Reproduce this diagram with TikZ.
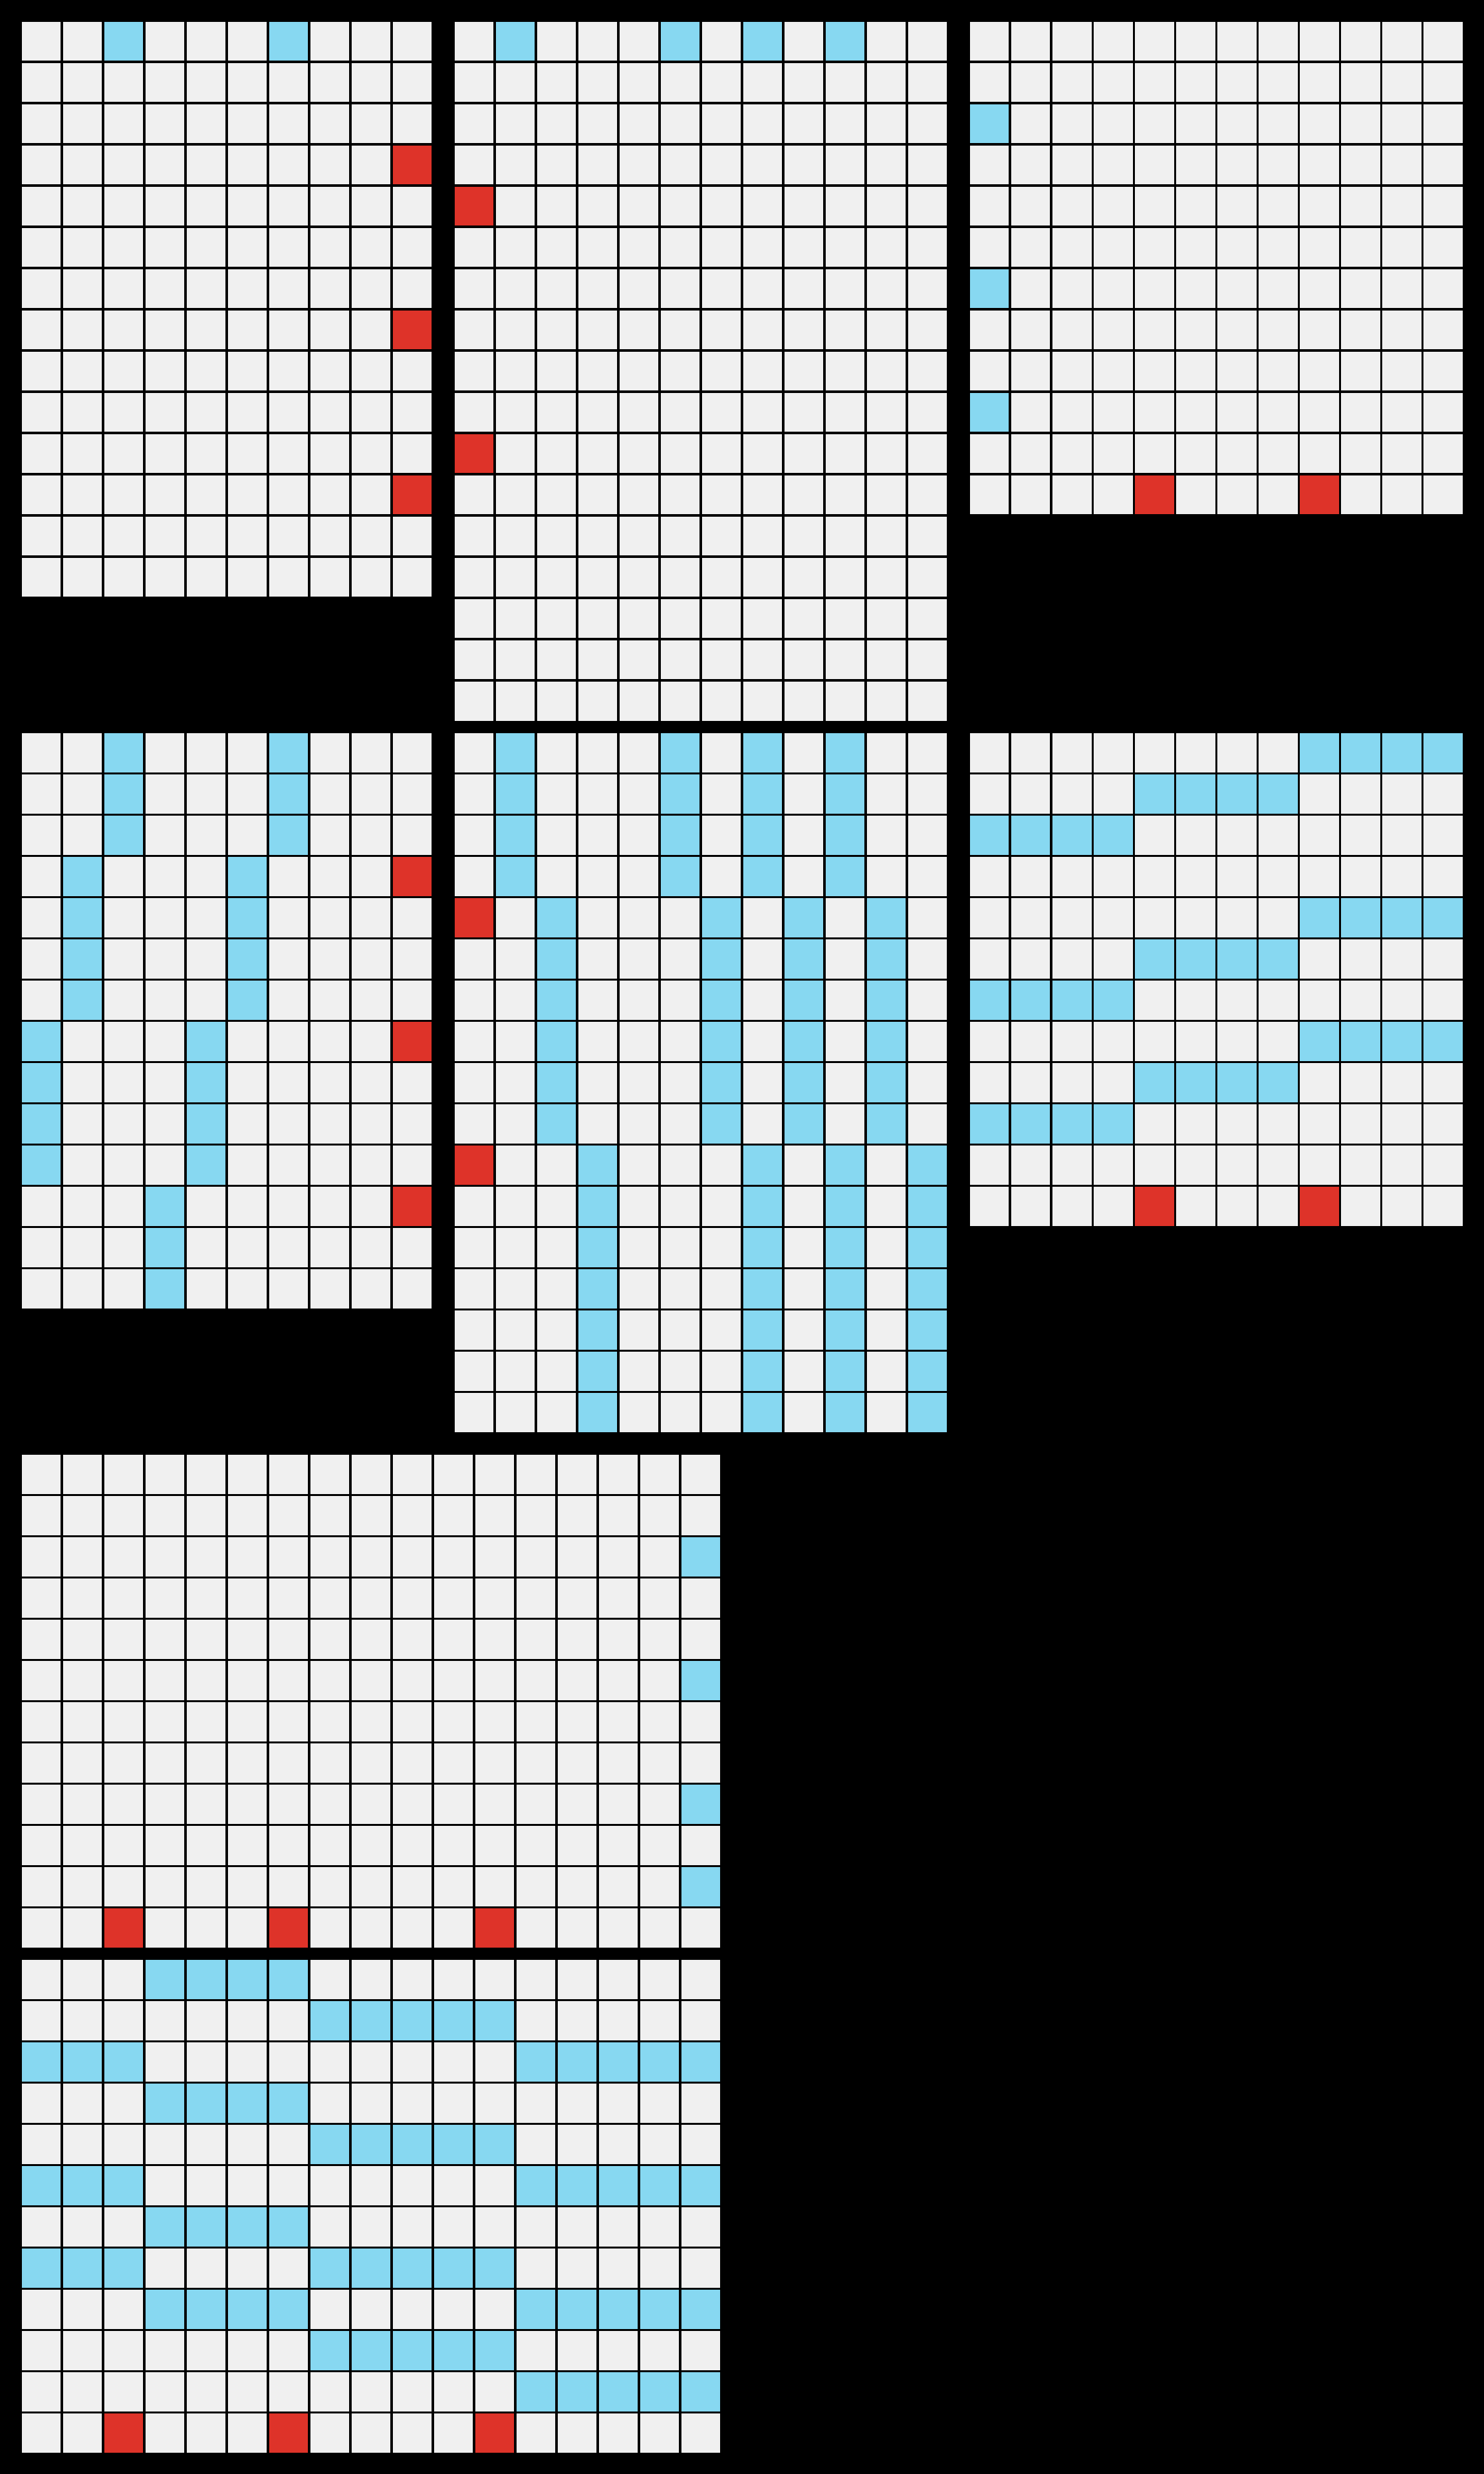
\documentclass[tikz,border=0pt]{standalone}
\usepackage{tikz}
\definecolor{cellgrey}{HTML}{F0F0F0}
\definecolor{beamblue}{HTML}{87D8F1}
\definecolor{mirrorred}{HTML}{DE3329}
\tikzset{
  bgfill/.style={fill=black},
  cellfill/.style={fill=cellgrey},
  bluefill/.style={fill=beamblue},
  redfill/.style={fill=mirrorred},
  gridline/.style={draw=black, line width=1.35pt, line cap=rect}
}
\newcommand{\mkgrid}[2]{%
  \fill[cellfill] (0,0) rectangle (#1,#2);}
\newcommand{\mklines}[2]{%
  \foreach \i in {0,...,#1} {\draw[gridline] (\i,0) -- (\i,#2);}
  \foreach \j in {0,...,#2} {\draw[gridline] (0,\j) -- (#1,\j);}}
\newcommand{\bl}[4]{\fill[bluefill] (#1,#2) rectangle (#3,#4);}
\newcommand{\rd}[2]{\fill[redfill] (#1,#2) rectangle ++(1,1);}
\begin{document}
\begin{tikzpicture}[x=1cm,y=-1cm]
\useasboundingbox (0,0) rectangle (36,60);
\fill[bgfill] (0,0) rectangle (36,60);
% Grid A
\begin{scope}[shift={(0.5,0.5)}]
  \mkgrid{10}{14}
  \bl{2}{0}{3}{1} \bl{6}{0}{7}{1}
  \rd{9}{3} \rd{9}{7} \rd{9}{11}
  \mklines{10}{14}
\end{scope}
% Grid B
\begin{scope}[shift={(11,0.5)}]
  \mkgrid{12}{17}
  \bl{1}{0}{2}{1} \bl{5}{0}{6}{1} \bl{7}{0}{8}{1} \bl{9}{0}{10}{1}
  \rd{0}{4} \rd{0}{10}
  \mklines{12}{17}
\end{scope}
% Grid C
\begin{scope}[shift={(23.5,0.5)}]
  \mkgrid{12}{12}
  \bl{0}{2}{1}{3} \bl{0}{6}{1}{7} \bl{0}{9}{1}{10}
  \rd{4}{11} \rd{8}{11}
  \mklines{12}{12}
\end{scope}
% Grid D
\begin{scope}[shift={(0.5,17.75)}]
  \mkgrid{10}{14}
  \bl{2}{0}{3}{3} \bl{6}{0}{7}{3}
  \bl{1}{3}{2}{7} \bl{5}{3}{6}{7}
  \bl{0}{7}{1}{11} \bl{4}{7}{5}{11}
  \bl{3}{11}{4}{14}
  \rd{9}{3} \rd{9}{7} \rd{9}{11}
  \mklines{10}{14}
\end{scope}
% Grid E
\begin{scope}[shift={(11,17.75)}]
  \mkgrid{12}{17}
  \foreach \c in {1,5,7,9} {\bl{\c}{0}{\c+1}{4}}
  \foreach \c in {2,6,8,10} {\bl{\c}{4}{\c+1}{10}}
  \foreach \c in {3,7,9,11} {\bl{\c}{10}{\c+1}{17}}
  \rd{0}{4} \rd{0}{10}
  \mklines{12}{17}
\end{scope}
% Grid F
\begin{scope}[shift={(23.5,17.75)}]
  \mkgrid{12}{12}
  \foreach \r in {2,6,9} {\bl{0}{\r}{4}{\r+1}}
  \foreach \r in {1,5,8} {\bl{4}{\r}{8}{\r+1}}
  \foreach \r in {0,4,7} {\bl{8}{\r}{12}{\r+1}}
  \rd{4}{11} \rd{8}{11}
  \mklines{12}{12}
\end{scope}
% Grid G
\begin{scope}[shift={(0.5,35.25)}]
  \mkgrid{17}{12}
  \foreach \r in {2,5,8,10} {\bl{16}{\r}{17}{\r+1}}
  \rd{2}{11} \rd{6}{11} \rd{11}{11}
  \mklines{17}{12}
\end{scope}
% Grid H
\begin{scope}[shift={(0.5,47.5)}]
  \mkgrid{17}{12}
  \foreach \r in {2,5,8,10} {\bl{12}{\r}{17}{\r+1}}
  \foreach \r in {1,4,7,9} {\bl{7}{\r}{12}{\r+1}}
  \foreach \r in {0,3,6,8} {\bl{3}{\r}{7}{\r+1}}
  \foreach \r in {2,5,7} {\bl{0}{\r}{3}{\r+1}}
  \rd{2}{11} \rd{6}{11} \rd{11}{11}
  \mklines{17}{12}
\end{scope}
\end{tikzpicture}
\end{document}
